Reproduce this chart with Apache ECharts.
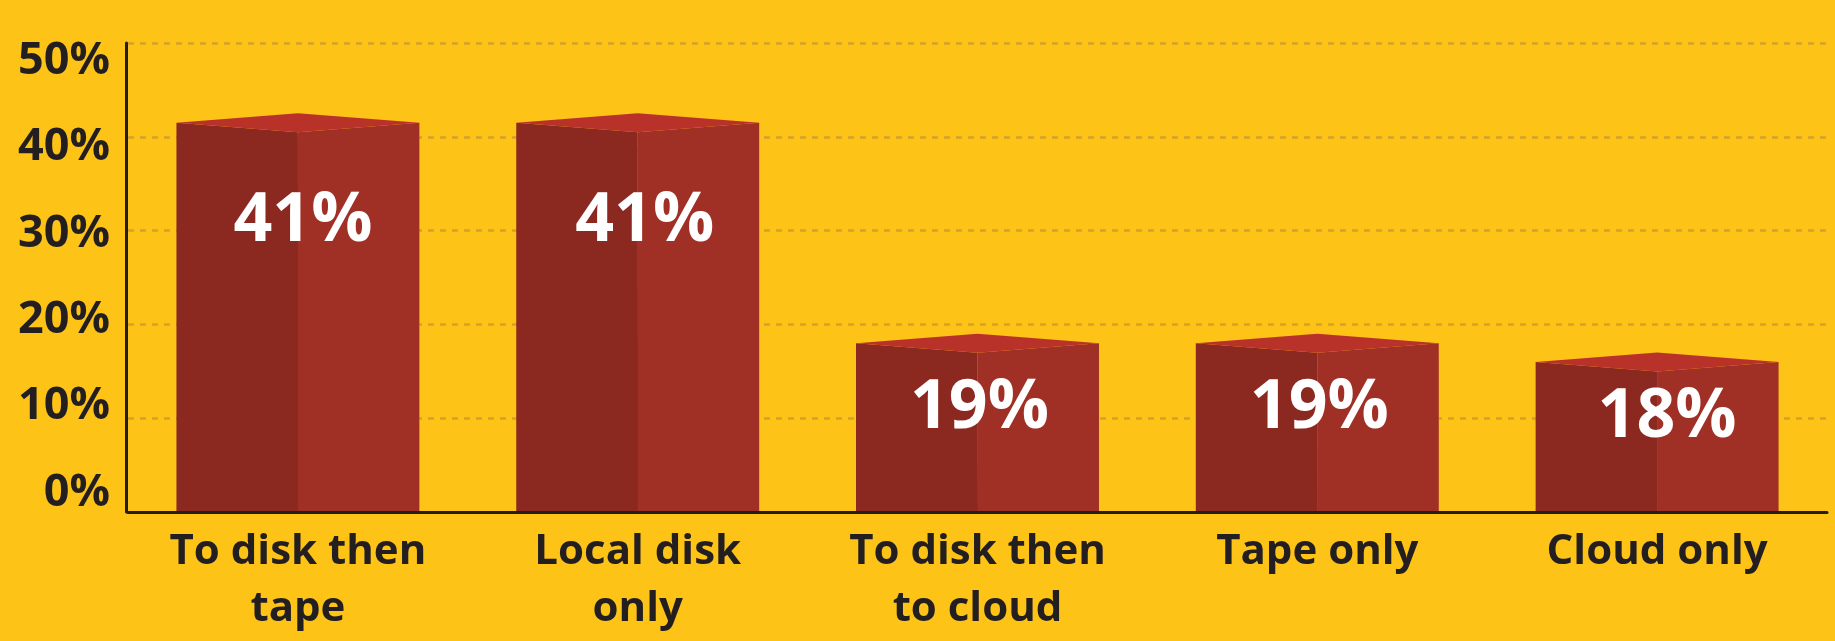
<!DOCTYPE html>
<html>
<head>
<meta charset="utf-8">
<script src="https://cdn.jsdelivr.net/npm/echarts@6/dist/echarts.min.js"></script>
<style>
  html, body { margin: 0; padding: 0; background: #FEC317; }
  #chart { width: 1835px; height: 641px; }
</style>
</head>
<body>
<div id="chart"></div>
<script>
// ---- data ----
const categories = ['To disk then\ntape', 'Local disk\nonly', 'To disk then\nto cloud', 'Tape only', 'Cloud only'];
const barHeights = [41.5, 41.5, 18, 18, 16];     // bar heights as drawn (%)
const printedValues = [41, 41, 19, 19, 18];      // value labels printed on the bars (%)
const yTicks = [0, 10, 20, 30, 40, 50];

// ---- styling ----
const BG = '#FEC317';
const INK = '#231F20';
const FRONT_DARK = '#8B2820';
const FRONT_LIGHT = '#A03025';
const TOP_FACE = '#B9322A';
const GRID = '#D4A22C';
const RISE = 9.5, DROP = 9.5;
const labelDrop = [99, 99, 65, 65, 56];
const labelShift = [5, 7, 2, 2, 10];

const chart = echarts.init(document.getElementById('chart'), null, { renderer: 'canvas' });

function renderItem(params, api) {
  const i = params.dataIndex;
  const top = api.coord([api.value(0), api.value(1)]);
  const base = api.coord([api.value(0), 0]);
  const w = api.size([1, 0])[0] * 0.715;
  const xc = top[0], xl = xc - w / 2, xr = xc + w / 2, yt = top[1], y0 = base[1];
  return {
    type: 'group',
    children: [
      { type: 'polygon', shape: { points: [[xl, yt], [xc, yt + DROP], [xc + 0.5, y0], [xl, y0]] }, style: { fill: FRONT_DARK } },
      { type: 'polygon', shape: { points: [[xc, yt + DROP], [xr, yt], [xr, y0], [xc, y0]] }, style: { fill: FRONT_LIGHT } },
      { type: 'polygon', shape: { points: [[xl, yt], [xc, yt - RISE], [xr, yt], [xc, yt + DROP]] }, style: { fill: TOP_FACE } },
      {
        type: 'text', x: xc + labelShift[i], y: yt + labelDrop[i],
        style: {
          text: printedValues[i] + '%', fill: '#FFFFFF',
          fontSize: 68, fontWeight: 'bold', fontFamily: 'Open Sans',
          align: 'center', verticalAlign: 'middle'
        }
      }
    ]
  };
}

chart.setOption({
  backgroundColor: BG,
  animation: false,
  grid: { left: 128, right: 8, top: 43, bottom: 129, containLabel: false },
  xAxis: {
    type: 'category',
    data: categories,
    z: 5,
    axisLine: { show: true, lineStyle: { color: INK, width: 3 } },
    axisTick: { show: false },
    axisLabel: {
      color: INK, fontSize: 42, fontWeight: 'bold', fontFamily: 'Open Sans',
      lineHeight: 57, margin: 12, interval: 0
    }
  },
  yAxis: [
    {
      type: 'value', min: 0, max: 50, interval: 10, offset: 2,
      axisLine: { show: true, lineStyle: { color: INK, width: 3 } },
      axisTick: { show: false },
      axisLabel: { show: false },
      splitLine: { show: true, lineStyle: { color: GRID, width: 2.5, type: [6, 6] } }
    },
    {
      type: 'value', min: -2.2, max: 52.11, position: 'left',
      axisLine: { show: false }, axisTick: { show: false }, splitLine: { show: false },
      axisLabel: {
        show: true, customValues: yTicks, formatter: '{value}%',
        color: INK, fontSize: 45, fontWeight: 'bold', fontFamily: 'Open Sans', margin: 18
      }
    }
  ],
  series: [{
    type: 'custom',
    renderItem: renderItem,
    data: barHeights.map((v, i) => [i, v]),
    encode: { x: 0, y: 1 },
    z: 2
  }]
});
</script>
</body>
</html>
